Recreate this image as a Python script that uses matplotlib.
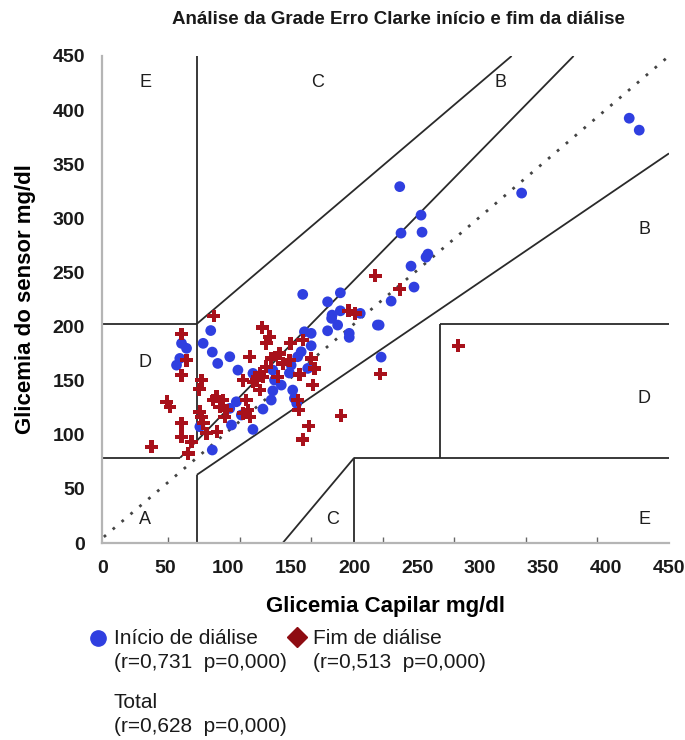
import matplotlib
matplotlib.use("Agg")
import numpy as np
import matplotlib.pyplot as plt
from matplotlib.lines import Line2D

# -------------------------
# DATA
# -------------------------
inicio_x = [372.2, 379.2, 297.0, 211.8, 226.7, 212.7, 227.4, 231.5, 230.2, 219.7,
            221.8, 205.8, 197.4, 198.8, 144.0, 170.3, 161.4, 170.3, 164.5, 164.2,
            184.2, 168.4, 161.4, 176.5, 176.5, 196.2, 145.2, 149.9, 149.9, 142.9,
            140.5, 135.9, 147.5, 134.7, 137.0, 138.2, 139.8, 79.7, 80.8, 84.6,
            93.0, 98.7, 109.2, 123.1, 124.3, 129.0, 123.1, 122.0, 116.2, 97.6,
            93.0, 101.1, 94.2, 109.2, 80.8, 74.4, 59.3, 62.8, 58.1, 55.8, 72.1]
inicio_y = [348.9, 339.1, 287.4, 292.7, 269.3, 254.5, 255.3, 237.3, 234.8, 227.4,
            210.2, 198.7, 179.0, 152.7, 204.2, 205.5, 198.1, 190.7, 187.2, 184.5,
            188.6, 179.0, 174.3, 172.2, 168.9, 179.0, 173.5, 172.2, 162.0, 157.1,
            153.0, 146.1, 143.4, 139.6, 125.6, 118.8, 114.7, 174.5, 156.8, 147.5,
            153.0, 142.0, 139.3, 142.0, 133.8, 129.7, 125.0, 117.4, 110.0, 116.0,
            110.6, 105.1, 96.9, 93.3, 76.4, 164.0, 164.0, 159.9, 151.6, 146.1, 95.5]

fim_x = [211.8, 252.6, 198.1, 194.6, 176.0, 180.7, 144.0, 135.4, 149.9, 152.2,
         141.7, 151.0, 141.2, 170.8, 148.2, 144.0, 81.8, 115.7, 120.8, 118.5,
         106.9, 122.0, 127.8, 130.1, 118.5, 113.9, 111.6, 109.2, 116.2, 102.2,
         113.9, 126.6, 134.7, 83.7, 88.3, 86.0, 90.7, 89.5, 104.6, 105.7,
         106.9, 102.2, 84.1, 140.5, 59.3, 62.8, 59.3, 73.3, 71.6, 48.9,
         51.2, 72.1, 73.3, 59.3, 74.4, 59.3, 76.7, 66.3, 38.4, 63.9, 81.3]
fim_y = [208.5, 162.0, 138.8, 219.5, 190.7, 188.6, 166.7, 164.0, 151.6, 143.4,
         138.5, 129.7, 109.2, 104.5, 96.1, 85.1, 186.4, 177.1, 169.4, 164.0,
         153.0, 151.6, 155.7, 147.5, 144.7, 139.3, 133.8, 132.4, 136.5, 133.8,
         125.6, 136.5, 150.2, 120.1, 117.4, 111.9, 109.2, 103.7, 117.4, 109.2,
         103.7, 106.5, 91.4, 117.4, 171.6, 150.2, 137.9, 133.8, 126.4, 116.0,
         111.9, 107.8, 103.7, 98.3, 98.3, 87.3, 90.1, 83.2, 79.1, 73.6, 117.4]

# Clarke error grid boundaries
grid_segments = [
    ((0, 175 / 3), (70, 70)),
    ((175 / 3, 400 / 1.2), (70, 400)),
    ((70, 70), (84, 400)),
    ((0, 70), (180, 180)),
    ((70, 290), (180, 400)),
    ((70, 70), (0, 56)),
    ((70, 400), (56, 320)),
    ((180, 180), (0, 70)),
    ((180, 400), (70, 70)),
    ((240, 240), (70, 180)),
    ((240, 400), (180, 180)),
    ((130, 180), (0, 70)),
]

zone_labels = ["E", "C", "B", "B", "D", "D", "A", "C", "E"]
zone_x = [33.8, 154.2, 282.4, 382.6, 33.8, 382.6, 33.8, 164.7, 382.6]
zone_y = [378.5, 378.5, 378.5, 257.8, 148.6, 119.0, 18.9, 18.9, 18.9]

tick_labels = ["0", "50", "100", "150", "200", "250", "300", "350", "400", "450"]

BLUE = "#2f3fe0"
RED = "#a8111b"
DARK_RED = "#8e0c12"
FONT = ["Liberation Sans", "DejaVu Sans"]

# -------------------------
# FIGURE
# -------------------------
W, H = 685, 740
fig = plt.figure(figsize=(W / 100, H / 100), dpi=100)
ax = fig.add_axes([101.7 / W, 1 - 543 / H, (669 - 101.7) / W, (543 - 56) / H])

ax.set_xlim(3.5, 400)
ax.set_ylim(0, 400)

# identity line
ax.plot([5, 400], [5, 400], color="#444444", linestyle=(0, (1, 3.2)), linewidth=2.0, zorder=1)

for xs, ys in grid_segments:
    ax.plot(xs, ys, color="#2a2a2a", linewidth=1.3, zorder=2, solid_capstyle="butt")

for lab, zx, zy in zip(zone_labels, zone_x, zone_y):
    ax.text(zx, zy, lab, ha="center", va="center", fontsize=13, family=FONT, color="#1e1e1e")

ax.scatter(inicio_x, inicio_y, s=60, marker="o", color=BLUE, edgecolors="none", zorder=3)
ax.scatter(fim_x, fim_y, s=85, marker="P", color=RED, edgecolors="none", zorder=4)

# spines
for side in ["top", "right"]:
    ax.spines[side].set_visible(False)
for side in ["left", "bottom"]:
    ax.spines[side].set_color("#b5b5b5")
    ax.spines[side].set_linewidth(1.6)

ax.set_xticks(np.linspace(4, 400, 10))
ax.set_xticklabels(tick_labels)
ax.set_yticks(np.linspace(0, 400, 10))
ax.set_yticklabels(tick_labels)
ax.tick_params(axis="both", length=0, pad=12)
ax.set_xticks(np.arange(50, 401, 50), minor=True)
ax.tick_params(axis="x", which="minor", direction="in", length=4, color="#666666", width=1)
for lbl in ax.get_xticklabels() + ax.get_yticklabels():
    lbl.set_family(FONT)
    lbl.set_fontweight("bold")
    lbl.set_fontsize(14)
    lbl.set_color("#1a1a1a")

ax.set_xlabel("Glicemia Capilar mg/dl", family=FONT, fontweight="bold", fontsize=16, labelpad=14)
ax.set_ylabel("Glicemia do sensor mg/dl", family=FONT, fontweight="bold", fontsize=16, labelpad=12)

fig.text(398 / W, 1 - 20 / H, "Análise da Grade Erro Clarke início e fim da diálise",
         ha="center", va="center", fontsize=13.5, fontweight="bold", family=FONT, color="#1a1a1a")

# -------------------------
# LEGEND (below the plot)
# -------------------------
def fx(px):
    return px / W


def fy(py):
    return 1 - py / H


fig.add_artist(Line2D([fx(98)], [fy(638)], transform=fig.transFigure, marker="o",
                      markersize=11, color=BLUE, linestyle="none"))
fig.add_artist(Line2D([fx(297)], [fy(637)], transform=fig.transFigure, marker="D",
                      markersize=10, color=DARK_RED, linestyle="none"))

legend_kw = dict(fontsize=15, family=FONT, va="center", ha="left", color="#1a1a1a")
fig.text(fx(114), fy(638), "Início de diálise", **legend_kw)
fig.text(fx(114), fy(662), "(r=0,731  p=0,000)", **legend_kw)
fig.text(fx(313), fy(638), "Fim de diálise", **legend_kw)
fig.text(fx(313), fy(662), "(r=0,513  p=0,000)", **legend_kw)
fig.text(fx(114), fy(703), "Total", **legend_kw)
fig.text(fx(114), fy(727), "(r=0,628  p=0,000)", **legend_kw)

fig.savefig("out.png", dpi=100)
